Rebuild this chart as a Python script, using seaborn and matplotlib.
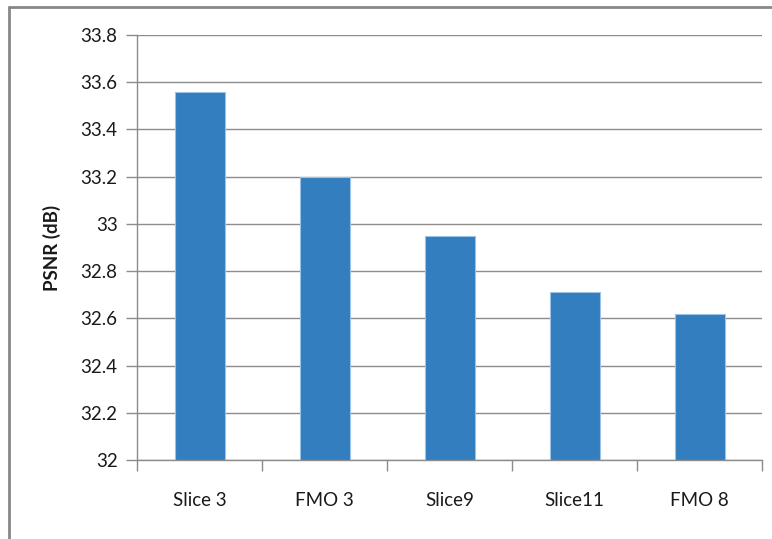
import matplotlib
matplotlib.use("Agg")
import matplotlib.pyplot as plt
import seaborn as sns
import pandas as pd
from matplotlib.lines import Line2D

categories = ["Slice 3", "FMO 3", "Slice9", "Slice11", "FMO 8"]
psnr = [33.56, 33.20, 32.95, 32.71, 32.62]
y_ticks = [32, 32.2, 32.4, 32.6, 32.8, 33, 33.2, 33.4, 33.6, 33.8]
y_tick_labels = ["32", "32.2", "32.4", "32.6", "32.8", "33", "33.2", "33.4", "33.6", "33.8"]

sns.set_theme(style="white")
plt.rcParams["font.family"] = ["Lato", "DejaVu Sans"]

df = pd.DataFrame({"config": categories, "psnr": psnr})

fig = plt.figure(figsize=(7.72, 5.39), dpi=100)
ax = fig.add_axes([137 / 772, 1 - 460 / 539, (762 - 137) / 772, (460 - 35) / 539])

sns.barplot(data=df, x="config", y="psnr", ax=ax, color="#337EBF", saturation=1,
            width=0.4, edgecolor="#9CC3E6", linewidth=0.8)
ax.set_ylim(32.0, 33.8)
ax.set_xlim(-0.5, len(categories) - 0.5)

ax.set_yticks(y_ticks)
ax.set_yticklabels(y_tick_labels)
ax.yaxis.grid(True, color="#8C8C8C", linewidth=1.0)
ax.set_axisbelow(True)

for s in ["top", "right"]:
    ax.spines[s].set_visible(False)
for s in ["left", "bottom"]:
    ax.spines[s].set_visible(True)
    ax.spines[s].set_color("#8C8C8C")
    ax.spines[s].set_linewidth(1.0)

# category boundary ticks below the x axis
ax.set_xticks([i - 0.5 for i in range(len(categories) + 1)], minor=True)
ax.tick_params(axis="x", which="minor", length=8, width=1, color="#8C8C8C", bottom=True)
ax.tick_params(axis="x", which="major", length=0, pad=23, labelsize=13.5, labelcolor="#1a1a1a")
ax.tick_params(axis="y", which="major", length=8, width=1, color="#8C8C8C", left=True,
               pad=6, labelsize=13.5, labelcolor="#1a1a1a")

ax.set_xlabel("")
ax.set_ylabel("PSNR (dB)", fontsize=13.5, fontweight="bold", color="#1a1a1a", labelpad=14)

# chart frame
fig.add_artist(Line2D([9 / 772, 9 / 772], [0, 1 - 7 / 539], transform=fig.transFigure,
                      color="#888888", linewidth=2))
fig.add_artist(Line2D([9 / 772, 1], [1 - 7 / 539, 1 - 7 / 539], transform=fig.transFigure,
                      color="#888888", linewidth=2))

fig.savefig("out.png", dpi=100)
